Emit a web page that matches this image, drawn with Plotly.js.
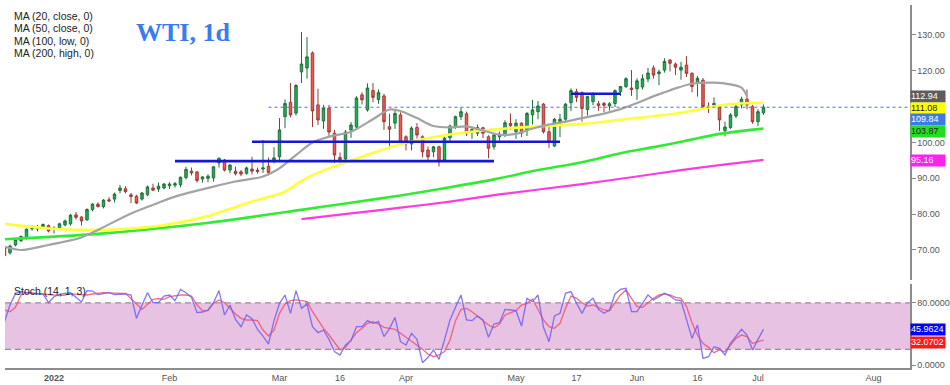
<!DOCTYPE html>
<html><head><meta charset="utf-8">
<script src="https://cdn.plot.ly/plotly-3.0.1.min.js"></script>
<style>html,body{margin:0;padding:0;background:#fff}#chart{width:950px;height:385px}</style>
</head><body><div id="chart"></div>
<script>
// ---- trading days (categories) ----
const dates = [
"2021-12-20","2021-12-21","2021-12-22","2021-12-23","2021-12-27","2021-12-28","2021-12-29","2021-12-30","2021-12-31",
"2022-01-03","2022-01-04","2022-01-05","2022-01-06","2022-01-07","2022-01-10","2022-01-11","2022-01-12","2022-01-13","2022-01-14",
"2022-01-17","2022-01-18","2022-01-19","2022-01-20","2022-01-21","2022-01-24","2022-01-25","2022-01-26","2022-01-27","2022-01-28","2022-01-31",
"2022-02-01","2022-02-02","2022-02-03","2022-02-04","2022-02-07","2022-02-08","2022-02-09","2022-02-10","2022-02-11",
"2022-02-14","2022-02-15","2022-02-16","2022-02-17","2022-02-18","2022-02-21","2022-02-22","2022-02-23","2022-02-24","2022-02-25","2022-02-28",
"2022-03-01","2022-03-02","2022-03-03","2022-03-04","2022-03-07","2022-03-08","2022-03-09","2022-03-10","2022-03-11",
"2022-03-14","2022-03-15","2022-03-16","2022-03-17","2022-03-18","2022-03-21","2022-03-22","2022-03-23","2022-03-24","2022-03-25",
"2022-03-28","2022-03-29","2022-03-30","2022-03-31",
"2022-04-01","2022-04-04","2022-04-05","2022-04-06","2022-04-07","2022-04-08","2022-04-11","2022-04-12","2022-04-13","2022-04-14",
"2022-04-18","2022-04-19","2022-04-20","2022-04-21","2022-04-22","2022-04-25","2022-04-26","2022-04-27","2022-04-28","2022-04-29",
"2022-05-02","2022-05-03","2022-05-04","2022-05-05","2022-05-06","2022-05-09","2022-05-10","2022-05-11","2022-05-12","2022-05-13",
"2022-05-16","2022-05-17","2022-05-18","2022-05-19","2022-05-20","2022-05-23","2022-05-24","2022-05-25","2022-05-26","2022-05-27",
"2022-05-30","2022-05-31",
"2022-06-01","2022-06-02","2022-06-03","2022-06-06","2022-06-07","2022-06-08","2022-06-09","2022-06-10","2022-06-13","2022-06-14",
"2022-06-15","2022-06-16","2022-06-17","2022-06-20","2022-06-21","2022-06-22","2022-06-23","2022-06-24","2022-06-27","2022-06-28",
"2022-06-29","2022-06-30","2022-07-01","2022-07-04"];
const futureDates = ["2022-07-05","2022-07-06","2022-07-07","2022-07-08","2022-07-11","2022-07-12","2022-07-13","2022-07-14","2022-07-15",
"2022-07-18","2022-07-19","2022-07-20","2022-07-21","2022-07-22","2022-07-25","2022-07-26","2022-07-27","2022-07-28","2022-07-29",
"2022-08-01","2022-08-02","2022-08-03","2022-08-04","2022-08-05","2022-08-08","2022-08-09","2022-08-10"];

// ---- OHLC ----
const openP = [70.9,69.2,71.4,72.6,73.4,75.9,75.9,76.5,76.8,
75.7,76.1,77.0,77.3,79.8,79.2,78.4,81.3,82.8,82.1,84.0,84.2,86.6,87.1,85.4,85.0,84.2,85.4,87.3,87.0,87.3,
87.9,88.1,88.2,90.2,92.0,91.8,89.8,90.0,90.1,94.3,95.1,92.3,92.0,91.8,91.4,92.6,92.3,92.6,93.4,94.8,
96.0,107.2,111.2,108.2,119.7,120.8,125.0,110.5,106.0,109.6,102.6,95.8,95.4,103.5,104.3,113.3,109.1,114.5,112.0,113.0,104.4,105.4,107.7,
101.6,99.6,104.2,101.6,97.9,97.4,98.8,95.1,101.3,104.4,107.2,108.0,103.2,102.6,104.1,101.6,98.8,101.6,102.1,105.3,
103.0,105.4,103.5,107.7,108.6,110.7,103.0,99.0,105.8,106.5,111.1,114.2,113.9,109.2,111.4,110.8,110.9,110.2,110.9,114.2,115.6,115.2,
115.0,115.5,117.7,120.8,119.2,120.2,123.0,121.9,120.2,121.6,119.3,116.7,117.4,110.1,110.4,110.0,103.3,104.2,107.4,110.5,112.1,110.0,
105.8,108.3];
const highP = [71.2,71.5,73.2,74.0,76.0,76.9,77.0,77.4,77.1,
76.6,77.6,78.5,80.1,80.6,79.4,81.6,83.0,83.3,84.2,84.7,86.0,88.1,87.8,85.9,85.4,86.2,88.0,88.5,88.8,88.7,
88.9,89.0,90.5,93.2,93.0,91.9,90.6,91.1,93.4,95.8,95.4,93.9,93.3,92.3,93.3,96.0,93.0,100.7,95.8,98.7,
106.8,112.0,116.6,116.3,130.8,129.4,125.4,115.0,110.5,110.5,103.5,97.2,103.5,105.7,112.9,114.0,116.5,116.6,114.8,113.6,108.0,108.9,108.4,
102.0,104.5,105.4,102.0,98.9,99.0,99.1,101.6,105.0,107.5,109.8,108.6,104.5,105.0,104.4,102.0,102.5,103.0,106.2,108.1,
106.5,105.6,108.5,111.9,111.6,111.0,104.5,106.8,108.0,111.0,115.1,115.0,114.3,113.0,114.0,111.6,111.3,111.3,114.8,115.7,118.2,120.2,
117.9,119.0,120.8,121.5,120.3,123.5,123.3,122.3,122.5,124.1,119.6,118.6,118.0,111.2,112.6,110.4,105.8,108.2,110.5,112.8,114.8,110.5,
109.3,110.6];
const lowP = [67.8,68.7,71.0,72.2,72.9,75.4,75.2,75.8,74.9,
74.6,75.7,76.6,76.8,78.5,76.8,78.2,80.8,81.9,81.6,83.4,83.3,85.8,85.8,83.1,82.8,83.8,85.0,86.4,86.2,86.9,
87.0,87.4,87.5,89.7,90.8,88.8,88.8,88.9,89.1,93.0,91.9,91.4,90.8,90.6,91.0,91.1,91.3,91.5,90.8,94.2,
94.8,104.0,107.0,107.5,116.6,117.8,104.3,104.9,103.8,101.5,94.3,94.4,94.8,101.3,103.8,110.6,108.6,111.2,110.8,103.5,98.9,103.8,99.8,
97.8,97.8,101.1,95.8,94.6,95.9,93.3,94.8,100.0,103.8,106.3,101.8,101.0,101.8,101.2,95.6,98.0,100.5,101.5,103.5,
101.0,101.5,101.8,105.0,106.5,102.5,98.5,98.8,101.5,105.5,108.8,111.3,105.8,107.5,110.4,108.8,108.5,108.9,109.9,113.0,115.2,113.0,
111.9,114.8,116.8,117.8,116.0,119.5,119.8,118.8,117.5,118.3,114.0,112.8,109.6,108.2,109.8,103.2,101.7,103.8,106.8,109.5,109.3,105.2,
104.6,107.7];
const closeP = [68.4,71.1,72.9,73.8,75.8,76.2,76.4,77.1,75.3,
76.1,77.3,78.1,79.7,79.1,78.1,81.3,82.8,82.1,83.9,83.7,85.6,87.3,86.3,84.9,83.1,85.9,87.6,86.7,87.8,88.4,
88.4,88.5,90.3,92.5,91.5,89.4,90.4,90.6,93.2,95.6,92.3,93.7,91.3,91.2,92.9,92.0,91.9,92.9,91.6,95.7,
103.5,110.9,107.7,115.9,121.9,123.9,108.8,106.3,109.6,102.9,96.5,95.2,102.9,104.9,112.4,111.9,115.2,112.6,113.9,105.8,103.7,108.1,100.2,
99.6,104.0,102.1,97.4,96.0,98.8,94.6,101.2,104.6,107.2,108.6,102.6,103.6,104.2,102.6,98.4,102.1,102.3,105.5,104.7,
105.4,102.6,108.1,109.1,110.2,103.0,100.0,106.5,106.5,110.7,114.5,112.6,109.5,112.8,113.7,110.3,110.4,110.8,114.5,115.6,117.8,114.8,
117.2,117.8,119.4,118.8,119.7,122.6,122.1,121.0,121.0,119.3,115.6,117.9,110.0,109.9,110.9,106.3,104.3,107.7,110.0,112.1,110.5,105.8,
108.6,109.84];

// ---- Stochastic (14,1,3) ----
const stochK = [55.8,77.2,92.2,94.4,93.1,92.2,91.4,91.4,80.2,
87.9,90.9,92.2,93.1,87.1,81.1,95.7,95.2,90.5,92.2,93.1,90.5,90.9,91.4,90.0,60.1,77.2,93.1,80.2,80.2,88.8,
90.1,82.8,97.4,93.1,87.1,67.4,68.2,70.8,80.2,95.7,64.4,77.2,58.8,49.3,64.4,59.6,45.9,37.3,27.0,57.1,
79.4,90.1,66.5,95.7,72.9,78.5,49.3,41.6,45.0,33.0,17.2,12.9,25.7,31.3,49.3,49.3,57.1,53.6,55.8,36.5,46.8,61.3,30.0,
25.7,40.8,33.0,3.0,9.9,19.3,7.3,31.3,57.9,74.2,90.1,57.9,57.1,63.1,57.9,35.6,52.8,54.5,71.6,70.8,
69.9,50.2,85.8,81.5,90.1,48.5,30.0,63.1,66.5,92.2,94.4,79.4,66.5,80.2,85.8,71.6,66.5,70.8,91.4,97.4,98.7,68.6,
68.6,79.4,90.1,83.7,87.9,92.2,88.8,83.7,82.8,57.9,34.3,51.5,8.6,10.7,23.6,21.5,12.9,27.9,36.5,45.9,38.6,19.3,
33.0,45.9624];
const stochD = [70.8,68.6,74.2,90.1,93.1,93.1,92.2,91.4,90.5,
90.1,89.2,90.1,92.2,90.9,90.1,90.1,91.4,92.2,93.1,92.7,92.2,92.2,92.2,85.8,78.5,71.6,78.5,84.5,85.4,84.5,
87.9,89.2,90.1,90.1,88.8,77.2,69.9,69.9,79.4,83.7,80.2,72.9,65.6,60.1,57.9,57.9,57.1,45.0,37.3,45.0,
66.5,78.5,82.8,83.7,82.8,81.5,68.6,57.1,47.2,38.6,28.7,19.3,22.7,32.2,41.6,47.2,53.6,55.8,52.8,48.5,47.2,45.9,40.8,
35.6,31.3,25.7,20.2,14.2,10.7,12.9,17.2,32.2,57.1,71.6,72.9,68.6,63.1,57.9,51.5,48.0,52.8,64.4,67.4,
69.9,77.2,79.4,84.9,70.8,57.9,49.3,47.2,53.6,72.9,88.8,85.8,80.2,75.9,77.2,74.2,70.8,69.9,79.4,90.1,96.5,85.8,
75.1,74.2,80.2,85.8,90.1,91.4,90.1,87.1,85.8,75.1,54.5,38.6,27.9,22.7,15.9,19.3,17.2,25.7,34.3,38.6,36.5,27.9,
30.0,32.0702];

// ---- moving averages (at sample days) ----
const ma20Dates = ["2021-12-20","2021-12-23","2021-12-31","2022-01-10","2022-01-13","2022-01-21","2022-01-28","2022-02-02","2022-02-11","2022-02-17","2022-02-24","2022-03-01","2022-03-04","2022-03-09","2022-03-14","2022-03-18","2022-03-24","2022-03-29","2022-03-31","2022-04-05","2022-04-08","2022-04-13","2022-04-19","2022-04-21","2022-04-27","2022-05-02","2022-05-05","2022-05-10","2022-05-13","2022-05-18","2022-05-23","2022-05-27","2022-06-01","2022-06-03","2022-06-08","2022-06-10","2022-06-15","2022-06-21","2022-06-24","2022-06-28","2022-06-29"];
const ma20Vals = [70.9,70.0,71.4,73.5,75.6,80.2,83.2,84.9,87.7,89.1,90.5,92.8,96.5,100.0,101.6,103.0,106.5,109.2,108.8,106.8,104.6,104.2,104.5,103.8,102.2,102.4,103.9,105.0,105.8,106.8,107.7,109.3,111.0,112.3,114.0,115.1,116.4,116.7,116.2,115.3,112.94];
const ma50Dates = ["2021-12-20","2021-12-31","2022-01-10","2022-01-13","2022-01-21","2022-01-28","2022-02-09","2022-02-22","2022-03-02","2022-03-07","2022-03-10","2022-03-21","2022-03-31","2022-04-12","2022-04-25","2022-05-05","2022-05-18","2022-05-31","2022-06-13","2022-06-17","2022-06-24","2022-07-04"];
const ma50Vals = [77.3,76.0,75.6,75.6,76.0,76.7,79.1,83.5,86.3,89.3,91.6,95.5,99.5,102.0,103.5,104.4,105.2,106.7,108.3,109.5,110.7,111.08];
const ma100Dates = ["2021-12-20","2022-01-13","2022-02-09","2022-03-07","2022-03-18","2022-03-31","2022-04-13","2022-04-26","2022-05-06","2022-05-18","2022-05-27","2022-06-06","2022-06-13","2022-06-22","2022-07-04"];
const ma100Vals = [73.0,74.5,77.4,81.2,83.2,85.2,87.5,89.7,92.3,94.5,97.0,98.7,100.2,102.4,103.87];
const ma200Dates = ["2022-03-07","2022-03-18","2022-03-31","2022-04-13","2022-04-27","2022-05-18","2022-05-31","2022-06-13","2022-06-22","2022-07-04"];
const ma200Vals = [78.6,80.2,81.8,83.5,85.5,88.4,90.3,92.3,93.7,95.16];

// ---- drawn levels ----
const levelPrices = [94.8, 100.2, 113.6];
const levelStart = ["2022-02-02","2022-02-22","2022-05-16"];
const levelEnd = ["2022-04-26","2022-05-12","2022-05-27"];
const lastPriceLineStart = "2022-02-25";
const stochBand = [20, 80];

// ---- axis ticks ----
const xTickVals = ["2022-01-03","2022-02-01","2022-03-01","2022-03-16","2022-04-01","2022-05-02","2022-05-17","2022-06-01","2022-06-16","2022-07-01","2022-08-01"];
const xTickText = ["<b>2022</b>","Feb","Mar","16","Apr","May","17","Jun","16","Jul","Aug"];
const priceTicks = [70,80,90,100,110,120,130];
const priceTickText = ["70.00","80.00","90.00","100.00","","120.00","130.00"]; // 110.00 hidden behind the value tags
const stochTicks = [0,80];
const stochTickText = ["0.0000","80.0000"];
const legendLines = ["MA (20, close, 0)","MA (50, close, 0)","MA (100, low, 0)","MA (200, high, 0)"];

const allCats = dates.concat(futureDates);
const lastClose = closeP[closeP.length-1];
const dotX = allCats.slice(allCats.indexOf(lastPriceLineStart));

const traces = [];
traces.push({type:'candlestick', x:dates, open:openP, high:highP, low:lowP, close:closeP,
  xaxis:'x', yaxis:'y', whiskerwidth:0, hoverinfo:'skip', showlegend:false,
  increasing:{line:{color:'#1f6e3a',width:1}, fillcolor:'#22b357'},
  decreasing:{line:{color:'#9c3a34',width:1}, fillcolor:'#f25a4f'}});
function ma(xs, ys, color, w){
  return {type:'scatter', mode:'lines', x:xs, y:ys, xaxis:'x', yaxis:'y',
    line:{color:color, width:w, shape:'spline', smoothing:0.8}, hoverinfo:'skip', showlegend:false};
}
traces.push(ma(ma200Dates, ma200Vals, '#ff3be0', 2.2));
traces.push(ma(ma100Dates, ma100Vals, '#33ea33', 2.6));
traces.push(ma(ma50Dates, ma50Vals, '#ffff3a', 2.6));
traces.push(ma(ma20Dates, ma20Vals, '#a3a3a3', 2.2));
traces.push({type:'scatter', mode:'lines', x:dotX, y:dotX.map(()=>lastClose), xaxis:'x', yaxis:'y',
  line:{color:'#4f6fe8', width:1, dash:'dot'}, hoverinfo:'skip', showlegend:false});
levelPrices.forEach((p,k)=>{
  traces.push({type:'scatter', mode:'lines', x:[levelStart[k], levelEnd[k]], y:[p,p], xaxis:'x', yaxis:'y',
    line:{color:'#1616d6', width:2.6}, hoverinfo:'skip', showlegend:false});
});
traces.push({type:'scatter', mode:'lines', x:dates, y:stochD, xaxis:'x', yaxis:'y2',
  line:{color:'rgba(245,80,110,0.85)', width:1.3}, hoverinfo:'skip', showlegend:false});
traces.push({type:'scatter', mode:'lines', x:dates, y:stochK, xaxis:'x', yaxis:'y2',
  line:{color:'rgba(110,95,240,0.85)', width:1.3}, hoverinfo:'skip', showlegend:false});

const axisStyle = {showgrid:false, zeroline:false, showline:true, linecolor:'#8c8c8c', linewidth:1.5,
  ticks:'outside', ticklen:4, tickcolor:'#8c8c8c', tickfont:{size:9, color:'#555'}, fixedrange:true};

const annotations = [];
annotations.push({xref:'paper', yref:'paper', x:0.1967, y:0.9256, xanchor:'center', yanchor:'middle', showarrow:false,
  text:'<b>WTI, 1d</b>', font:{family:'Liberation Serif, serif', size:26, color:'#3a7bf0'}});
const legY = [0.9705, 0.9358, 0.9017, 0.8669];
legendLines.forEach((t,k)=>annotations.push({xref:'paper', yref:'paper', x:0.0077, y:legY[k], xanchor:'left', yanchor:'middle',
  showarrow:false, text:t, font:{size:10.5, color:'#222'}}));
annotations.push({xref:'paper', yref:'paper', x:0.0077, y:0.2129, xanchor:'left', yanchor:'middle', showarrow:false,
  text:'Stoch (14, 1, 3)', font:{size:10.5, color:'#222'}});
function tag(yref, val, txt, bg, fg, shift){
  return {xref:'paper', yref:yref, x:1, y:val, xanchor:'left', yanchor:'middle', xshift:0, yshift:shift,
    showarrow:false, text:txt, bgcolor:bg, borderpad:0, height:10.5, width:34, align:'left', font:{size:9, color:fg}};
}
annotations.push(tag('y', ma20Vals[ma20Vals.length-1], ma20Vals[ma20Vals.length-1].toFixed(2), '#5d5d5d', '#fff', 0));
annotations.push(tag('y', ma50Vals[ma50Vals.length-1], ma50Vals[ma50Vals.length-1].toFixed(2), '#ffff00', '#222', -5.5));
annotations.push(tag('y', lastClose, lastClose.toFixed(2), '#3f7be8', '#fff', -12));
annotations.push(tag('y', ma100Vals[ma100Vals.length-1], ma100Vals[ma100Vals.length-1].toFixed(2), '#22dd22', '#222', -2.6));
annotations.push(tag('y', ma200Vals[ma200Vals.length-1], ma200Vals[ma200Vals.length-1].toFixed(2), '#ff22ee', '#fff', -1));
annotations.push(tag('y2', stochK[stochK.length-1], stochK[stochK.length-1].toFixed(4), '#0000ff', '#fff', 0));
annotations.push(tag('y2', stochD[stochD.length-1], stochD[stochD.length-1].toFixed(4), '#ff1a1a', '#fff', -2));

const shapes = [
  {type:'rect', xref:'paper', yref:'y2', x0:0, x1:1, y0:stochBand[0], y1:stochBand[1], fillcolor:'#e8c2e2', line:{width:0}, layer:'below'},
  {type:'line', xref:'paper', yref:'y2', x0:0, x1:1, y0:stochBand[0], y1:stochBand[0], line:{color:'#9d8a9d', width:1.2, dash:'6px,4px'}, layer:'below'},
  {type:'line', xref:'paper', yref:'y2', x0:0, x1:1, y0:stochBand[1], y1:stochBand[1], line:{color:'#9d8a9d', width:1.2, dash:'6px,4px'}, layer:'below'}
];

const layout = {
  width:950, height:385, margin:{l:5, r:40, t:5, b:17},
  paper_bgcolor:'#fff', plot_bgcolor:'#fff',
  font:{family:'Liberation Sans, Arial, sans-serif'},
  showlegend:false, dragmode:false, boxgap:0.36, hovermode:false,
  xaxis:{type:'category', categoryorder:'array', categoryarray:allCats, range:[0.09, 164.64], anchor:'y2',
    tickvals:xTickVals, ticktext:xTickText, showgrid:false, zeroline:false, showline:true, linecolor:'#8c8c8c', linewidth:2,
    ticks:'', tickfont:{size:9, color:'#555'}, rangeslider:{visible:false}, fixedrange:true},
  yaxis:Object.assign({domain:[0.2424,1], range:[61.62,138.37], side:'right', anchor:'x', tickvals:priceTicks, ticktext:priceTickText}, axisStyle),
  yaxis2:Object.assign({domain:[0,0.2314], range:[-3.86,104.25], side:'right', anchor:'x', tickvals:stochTicks, ticktext:stochTickText}, axisStyle),
  annotations:annotations, shapes:shapes
};
Plotly.newPlot('chart', traces, layout, {displayModeBar:false, staticPlot:true});
</script></body></html>
